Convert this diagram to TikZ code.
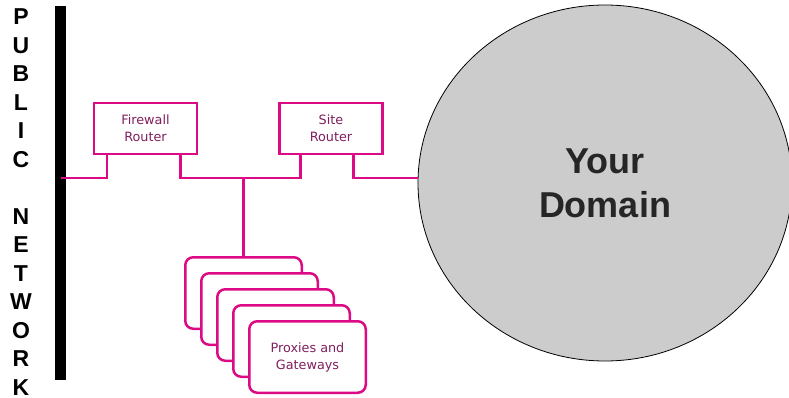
\documentclass[tikz,border=0pt]{standalone}
\usepackage{fontspec}
\newfontfamily\headfont{Liberation Sans}
\newfontfamily\labelfont{DejaVu Sans}
\usetikzlibrary{shapes,positioning,calc}
\definecolor{netpink}{HTML}{DC0A84}
\definecolor{labelpurple}{HTML}{80205E}
\definecolor{domaingray}{HTML}{CCCCCC}
\definecolor{domaintext}{HTML}{262626}

\tikzset{
  router/.style={draw=netpink, line width=2.2pt, fill=white, minimum width=103, minimum height=51,
    inner sep=0, align=center, text=labelpurple, font=\labelfont\fontsize{12.8}{17}\selectfont},
  proxy/.style={router, rounded corners=8pt, line width=2.5pt, minimum width=116.5, minimum height=71.5},
  netline/.style={draw=netpink, line width=2.8pt}
}

\begin{document}
\begin{tikzpicture}[x=1pt,y=-1pt]
  \useasboundingbox (0,0) rectangle (789,398);
  \node[anchor=north, inner sep=0, align=center, font=\headfont\bfseries\fontsize{23}{28.5}\selectfont] (public) at (21,8.5)
    {P\\U\\B\\L\\I\\C\\[28.5pt]N\\E\\T\\W\\O\\R\\K};
  \node[fill=black, inner sep=0, minimum width=11, minimum height=374] (bar) at (60.5,193) {};
  \node[router] (fw) at (145.5,128.5) {Firewall\\Router};
  \node[router] (site) at (331,128.5) {Site\\Router};
  \node[ellipse, draw=black, line width=0.8pt, fill=domaingray, minimum width=374, minimum height=356,
    inner sep=0, align=center, text=domaintext, font=\headfont\bfseries\fontsize{36}{44}\selectfont]
    (dom) at (605,183) {Your\\Domain};
  \node[proxy] (p1) at (243.5,293) {};
  \node[proxy] (p2) at (259.5,309) {};
  \node[proxy] (p3) at (275.5,325) {};
  \node[proxy] (p4) at (291.5,341) {};
  \node[proxy] (p5) at (307.5,357) {Proxies and\\Gateways};
  \coordinate (pub) at (61,178);
  \coordinate (hub) at (p1.north |- pub);
  \draw[netline] (pub) -| ([xshift=14pt]fw.south west);
  \draw[netline] ([xshift=-18pt]fw.south east) |- (hub) -| ([xshift=22pt]site.south west);
  \draw[netline] (hub) -- (p1.north);
  \draw[netline] ([xshift=-30pt]site.south east) |- (dom.west |- pub);
\end{tikzpicture}
\end{document}
